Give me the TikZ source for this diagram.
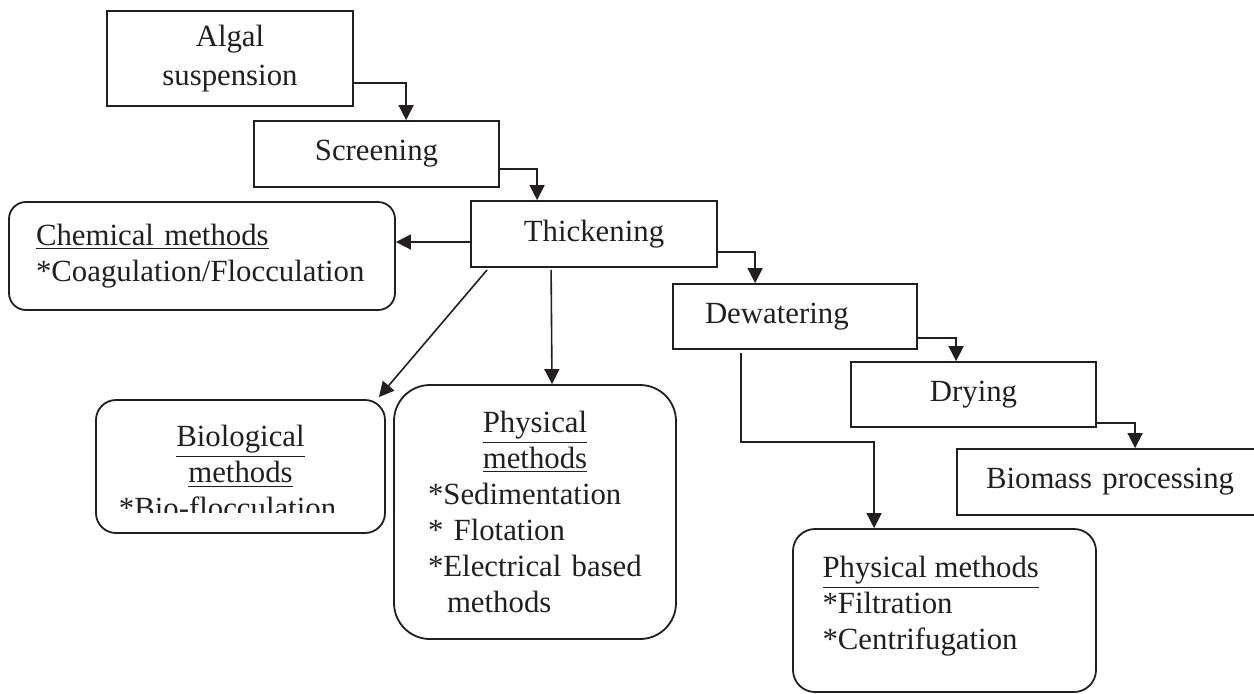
\documentclass[tikz,border=0pt]{standalone}
\usepackage{fontspec}
\setmainfont{Liberation Serif}
\usepackage{xcolor}
\usepackage{tikz}
\usetikzlibrary{positioning, arrows.meta, calc}

\definecolor{ink}{HTML}{231F20}
\newcommand\diagfont{\fontsize{15.4pt}{18pt}\selectfont}

\tikzset{
  stage/.style={draw=ink, line width=0.9pt, minimum height=33pt, font=\diagfont, text=ink},
  method/.style={draw=ink, line width=0.9pt, font=\diagfont, text=ink},
  flow/.style={draw=ink, line width=0.8pt, -{Triangle[width=7.5pt,length=7.5pt]}},
}

\begin{document}
\begin{tikzpicture}[x=0.5pt, y=-0.5pt]
  \useasboundingbox (0,0) rectangle (1254,693);
  % Process chain
  \node[stage, minimum width=123pt, minimum height=47.5pt, align=center] (algae) at (230,58.5) {Algal\\[1.5pt]suspension};
  \node[stage, minimum width=122.5pt] (screen) at (376.5,154) {Screening};
  \node[stage, minimum width=123pt] (thick) at (594,234) {Thickening};
  \node[stage, text width=90pt, inner xsep=16pt, align=left, minimum height=32.5pt] (dewater) at (795,316.5) {Dewatering};
  \node[stage, minimum width=122.5pt, minimum height=32.5pt] (dry) at (973.5,394.5) {Drying};
  \node[stage, text width=137.5pt, inner xsep=14.5pt, align=left] (biomass) at (1123.5,482) {Biomass processing};
  % Method boxes
  \node[method, rounded corners=8.5pt, minimum height=54pt, text width=166pt, inner xsep=13.5pt, align=left] (chem) at (202,256)
    {\underline{Chemical methods}\\{}*Coagulation/Flocculation};
  \node[method, rounded corners=10pt, minimum width=144.5pt, minimum height=66.5pt] (bio) at (240.5,466.5) {};
  \begin{scope}
    \clip (bio.north west) rectangle ($(bio.east)+(0,45.5)$);
    \node[anchor=north, inner sep=0pt, text width=130pt, font=\diagfont, text=ink] (biotext) at ($(bio.north)+(0,26)$)
      {\centering\underline{Biological}\\\underline{methods}\\\hspace*{-13pt}{}*Bio-flocculation\par};
  \end{scope}
  \node[method, rounded corners=18pt, minimum height=127pt, text width=107pt, inner xsep=17pt] (physA) at (535,512)
    {\centering\underline{Physical}\\\underline{methods}\par
     \raggedright{}*Sedimentation\\{}* Flotation\\{}*Electrical based\\\hspace*{9.5pt}methods\par};
  \node[method, rounded corners=11pt, minimum width=151.5pt, minimum height=81.5pt] (physB) at (944.5,610.5) {};
  \node[anchor=north west, inner sep=0pt, font=\diagfont, text=ink, align=left] (physBtext) at ($(physB.north west)+(30,28)$)
    {\underline{Physical methods}\\{}*Filtration\\{}*Centrifugation};
  % Stage to stage
  \foreach \a/\b/\dy/\dx in {algae/screen/24.5/153, screen/thick/15/67, thick/dewater/18/83,
                             dewater/dry/21.5/106, dry/biomass/28.5/179}
    \draw[flow] ($(\a.east)+(0,\dy)$) -| ($(\b.north west)+(\dx,0)$);
  % Branches
  \draw[flow] ($(thick.west)+(0,8)$) -- ($(chem.east)+(0,-14)$);
  \draw[flow] ($(thick.south west)+(17,2)$) -- ($(bio.north east)+(-7,-2)$);
  \draw[flow] ($(thick.south west)+(81,2)$) -- ($(physA.north)+(17,0)$);
  \draw[flow] ($(dewater.south west)+(69,3)$) -- ++(0,89) -| ($(physB.north west)+(82,0)$);
\end{tikzpicture}
\end{document}
